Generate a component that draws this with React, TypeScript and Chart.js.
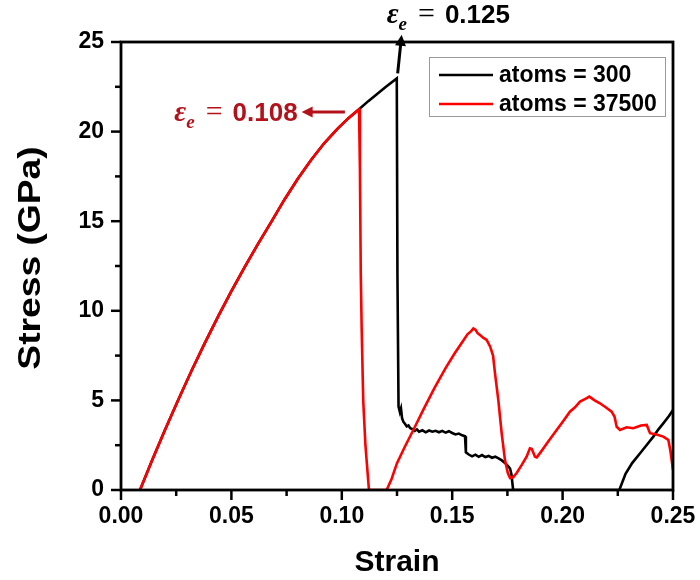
import React, { useEffect, useRef } from "react";
import { Chart, registerables } from "chart.js";
Chart.register(...registerables);

// ---------- data ----------
const seriesLabels = ["atoms = 300", "atoms = 37500"];
const seriesColors = ["#000000", "#ff0000"];

const strain300 = [
  0.0086, 0.014, 0.02, 0.026, 0.032, 0.038, 0.044, 0.05, 0.056, 0.062, 0.068, 0.074, 0.08, 0.086, 0.092, 0.098,
  0.103, 0.1078, 0.112, 0.116, 0.12, 0.1249, 0.1252, 0.1257, 0.1263, 0.1268, 0.1273, 0.1279, 0.1286,
  0.1294, 0.1302, 0.131, 0.132, 0.133, 0.134, 0.135, 0.1365, 0.138, 0.1395, 0.141, 0.1425, 0.144, 0.1455, 0.147,
  0.1485, 0.15, 0.1515, 0.153, 0.1545, 0.1558, 0.1562, 0.1575, 0.159, 0.1605, 0.162, 0.1635, 0.165, 0.1665, 0.168,
  0.1695, 0.171, 0.1725, 0.174, 0.1752, 0.1762, 0.1768, 0.1776, 0.2257, 0.2285, 0.2315, 0.2351, 0.238, 0.2411,
  0.2435, 0.2456, 0.248, 0.25,
];
const stress300 = [
  0, 1.63, 3.37, 5.05, 6.67, 8.21, 9.69, 11.1, 12.44, 13.72, 14.95, 16.2, 17.35, 18.4, 19.35, 20.15,
  20.75, 21.25, 21.7, 22.1, 22.5, 22.97, 12, 4.65, 4.35, 4.55, 4.0, 3.8, 3.7,
  3.55, 3.6, 3.45, 3.4, 3.3, 3.38, 3.25, 3.33, 3.22, 3.32, 3.25, 3.3, 3.22, 3.3, 3.2,
  3.28, 3.18, 3.1, 3.15, 3.05, 3.0, 2.1, 1.98, 1.88, 1.97, 1.85, 1.95, 1.84, 1.9, 1.8,
  1.86, 1.76, 1.65, 1.5, 1.35, 1.2, 0.9, 0, 0, 0.9, 1.5, 2.05, 2.5, 2.98,
  3.4, 3.72, 4.1, 4.46,
];

const strain37500 = [
  0.0086, 0.014, 0.02, 0.026, 0.032, 0.038, 0.044, 0.05, 0.056, 0.062, 0.068, 0.074, 0.08, 0.086, 0.092, 0.098,
  0.103, 0.1078, 0.1082, 0.1086, 0.109, 0.1097, 0.1107, 0.1123, 0.1203, 0.1225, 0.125, 0.1285, 0.1324, 0.137,
  0.142, 0.147, 0.151, 0.1545, 0.157, 0.1585, 0.1596, 0.1605, 0.1615, 0.1626, 0.164, 0.1656, 0.1672, 0.1685,
  0.1694, 0.1709, 0.1724, 0.1739, 0.1752, 0.1762, 0.1775, 0.1792, 0.1815, 0.1837, 0.1852, 0.186, 0.1875, 0.1883,
  0.19, 0.1935, 0.1973, 0.2, 0.2033, 0.2055, 0.2079, 0.2105, 0.2121, 0.2145, 0.2169, 0.2195, 0.2222, 0.2235,
  0.2245, 0.226, 0.229, 0.232, 0.2355, 0.2381, 0.2396, 0.2425, 0.2456, 0.2479, 0.2488, 0.25,
];
const stress37500 = [
  0, 1.63, 3.37, 5.05, 6.67, 8.21, 9.69, 11.1, 12.44, 13.72, 14.95, 16.2, 17.35, 18.4, 19.35, 20.15,
  20.75, 21.25, 18, 12, 9, 5, 2.5, 0, 0, 0.6, 1.5, 2.4, 3.35, 4.5,
  5.7, 6.8, 7.6, 8.25, 8.7, 8.85, 9.02, 8.95, 8.75, 8.65, 8.5, 8.37, 8.0, 7.5,
  6.5, 5.0, 3.17, 1.67, 0.95, 0.67, 0.7, 0.95, 1.4, 1.86, 2.33, 2.3, 1.86, 1.82,
  2.1, 2.7, 3.35, 3.8, 4.37, 4.6, 4.93, 5.1, 5.21, 5.0, 4.84, 4.62, 4.37, 4.1,
  3.53, 3.35, 3.5, 3.45, 3.6, 3.63, 3.17, 3.1, 2.98, 2.79, 2.2, 1.12,
];

const xTickValues = [0, 0.025, 0.05, 0.075, 0.1, 0.125, 0.15, 0.175, 0.2, 0.225, 0.25];
const xTickLabels = ["0.00", "", "0.05", "", "0.10", "", "0.15", "", "0.20", "", "0.25"];
const yTickValues = [0, 2.5, 5, 7.5, 10, 12.5, 15, 17.5, 20, 22.5, 25];
const yTickLabels = ["0", "", "5", "", "10", "", "15", "", "20", "", "25"];
const xTitle = "Strain";
const yTitle = "Stress (GPa)";

// elastic limit annotations: value text, arrow from (strain, stress) to (strain, stress)
const elasticLimitText = ["0.125", "0.108"];
const elasticArrowFrom = [[0.1253, 23.25], [0.1014, 21.1]];
const elasticArrowTo = [[0.1271, 25.4], [0.0818, 21.1]];
const elasticColors = ["#000000", "#b3121b"];

const SANS = "Arial, 'Liberation Sans', sans-serif";
const SERIF = "'Cambria Math', 'Liberation Serif', 'DejaVu Serif', serif";

function toPoints(xs: number[], ys: number[]) {
  return xs.map((x, i) => ({ x, y: ys[i] }));
}

function drawArrow(ctx: CanvasRenderingContext2D, x1: number, y1: number, x2: number, y2: number, color: string) {
  const ang = Math.atan2(y2 - y1, x2 - x1);
  const head = 11;
  const hw = 5.5;
  ctx.save();
  ctx.strokeStyle = color;
  ctx.fillStyle = color;
  ctx.lineWidth = 3;
  ctx.beginPath();
  ctx.moveTo(x1, y1);
  ctx.lineTo(x2 - Math.cos(ang) * head * 0.8, y2 - Math.sin(ang) * head * 0.8);
  ctx.stroke();
  ctx.beginPath();
  ctx.moveTo(x2, y2);
  ctx.lineTo(x2 - Math.cos(ang) * head - Math.sin(ang) * hw, y2 - Math.sin(ang) * head + Math.cos(ang) * hw);
  ctx.lineTo(x2 - Math.cos(ang) * head + Math.sin(ang) * hw, y2 - Math.sin(ang) * head - Math.cos(ang) * hw);
  ctx.closePath();
  ctx.fill();
  ctx.restore();
}

function eqnParts(value: string) {
  return [
    { t: "ε", font: `italic bold 29px ${SERIF}`, dy: 0, gap: 0 },
    { t: "e", font: `italic bold 19px ${SERIF}`, dy: 7, gap: 0 },
    { t: "=", font: `30px ${SERIF}`, dy: 0, gap: 11 },
    { t: value, font: `bold 26px ${SANS}`, dy: 0, gap: 10 },
  ];
}

function measureEqn(ctx: CanvasRenderingContext2D, value: string) {
  let w = 0;
  for (const p of eqnParts(value)) {
    ctx.font = p.font;
    w += p.gap + ctx.measureText(p.t).width;
  }
  return w;
}

function drawEqn(ctx: CanvasRenderingContext2D, x: number, baseline: number, value: string, color: string) {
  ctx.save();
  ctx.fillStyle = color;
  ctx.textBaseline = "alphabetic";
  ctx.textAlign = "left";
  let cx = x;
  for (const p of eqnParts(value)) {
    ctx.font = p.font;
    cx += p.gap;
    ctx.fillText(p.t, cx, baseline + p.dy);
    cx += ctx.measureText(p.t).width;
  }
  ctx.restore();
}

const framePlugin = {
  id: "frameTicksLegendNotes",
  afterDraw(chart: any) {
    const { ctx, chartArea: a, scales } = chart;
    const xs = scales.x;
    const ys = scales.y;
    ctx.save();
    // ticks
    ctx.strokeStyle = "#000";
    ctx.lineWidth = 2.5;
    xTickValues.forEach((v, i) => {
      const px = xs.getPixelForValue(v);
      const len = xTickLabels[i] ? 10 : 6;
      ctx.beginPath();
      ctx.moveTo(px, a.bottom);
      ctx.lineTo(px, a.bottom + len);
      ctx.stroke();
    });
    yTickValues.forEach((v, i) => {
      const py = ys.getPixelForValue(v);
      const len = yTickLabels[i] ? 10 : 6;
      ctx.beginPath();
      ctx.moveTo(a.left, py);
      ctx.lineTo(a.left - len, py);
      ctx.stroke();
    });
    // frame
    ctx.lineWidth = 2.8;
    ctx.strokeRect(a.left, a.top, a.right - a.left, a.bottom - a.top);

    // y title (slightly stretched along its length like the reference)
    ctx.save();
    ctx.translate(31, (a.top + a.bottom) / 2 - 8);
    ctx.rotate(-Math.PI / 2);
    ctx.scale(1.2, 1);
    ctx.fillStyle = "#000";
    ctx.font = `bold 31px ${SANS}`;
    ctx.textAlign = "center";
    ctx.textBaseline = "middle";
    ctx.fillText(yTitle, 0, 0);
    ctx.restore();

    // legend
    const bx = a.right - 7;
    const by = a.top + 15;
    const bw = 237;
    const bh = 60;
    ctx.fillStyle = "#fff";
    ctx.fillRect(bx - bw, by, bw, bh);
    ctx.strokeStyle = "#9a9a9a";
    ctx.lineWidth = 1;
    ctx.strokeRect(bx - bw + 0.5, by + 0.5, bw - 1, bh - 1);
    chart.data.datasets.forEach((ds: any, i: number) => {
      const cy = by + 18 + i * 29;
      ctx.strokeStyle = ds.borderColor;
      ctx.lineWidth = 2.5;
      ctx.beginPath();
      ctx.moveTo(bx - bw + 10, cy);
      ctx.lineTo(bx - bw + 64, cy);
      ctx.stroke();
      ctx.fillStyle = "#000";
      ctx.font = `bold 23px ${SANS}`;
      ctx.textBaseline = "middle";
      ctx.textAlign = "left";
      ctx.fillText(ds.label, bx - bw + 70, cy + 1);
    });

    // elastic-limit annotations
    elasticLimitText.forEach((txt, i) => {
      const x1 = xs.getPixelForValue(elasticArrowFrom[i][0]);
      const y1 = ys.getPixelForValue(elasticArrowFrom[i][1]);
      const x2 = xs.getPixelForValue(elasticArrowTo[i][0]);
      const y2 = ys.getPixelForValue(elasticArrowTo[i][1]);
      drawArrow(ctx, x1, y1, x2, y2, elasticColors[i]);
      if (i === 0) {
        drawEqn(ctx, x2 - 15, y2 - 12, txt, elasticColors[i]);
      } else {
        const w = measureEqn(ctx, txt);
        drawEqn(ctx, x2 - 4 - w, y2 + 9, txt, elasticColors[i]);
      }
    });
    ctx.restore();
  },
};

export default function App() {
  const ref = useRef<HTMLCanvasElement>(null);
  useEffect(() => {
    if (!ref.current) return;
    const chart = new Chart(ref.current, {
      type: "line",
      data: {
        datasets: [
          {
            label: seriesLabels[0],
            data: toPoints(strain300, stress300),
            borderColor: seriesColors[0],
            backgroundColor: seriesColors[0],
            borderWidth: 2.6,
            pointRadius: 0,
            tension: 0,
            order: 2,
          },
          {
            label: seriesLabels[1],
            data: toPoints(strain37500, stress37500),
            borderColor: seriesColors[1],
            backgroundColor: seriesColors[1],
            borderWidth: 2.6,
            pointRadius: 0,
            tension: 0,
            order: 1,
          },
        ],
      },
      options: {
        responsive: false,
        animation: false,
        layout: { padding: { top: 42, right: 27, left: 0, bottom: 0 } },
        plugins: { legend: { display: false }, tooltip: { enabled: false } },
        scales: {
          x: {
            type: "linear",
            min: 0,
            max: 0.25,
            afterBuildTicks: (s: any) => {
              s.ticks = xTickValues.map((v) => ({ value: v }));
            },
            afterFit: (s: any) => {
              s.height = 90;
            },
            ticks: {
              autoSkip: false,
              maxRotation: 0,
              padding: 3,
              color: "#000",
              font: { family: SANS, size: 23, weight: "bold" },
              callback: (_v: any, i: number) => xTickLabels[i],
            },
            grid: { display: true, drawOnChartArea: false, drawTicks: true, tickLength: 10, tickColor: "rgba(0,0,0,0)" },
            border: { display: false },
            title: {
              display: true,
              text: xTitle,
              color: "#000",
              font: { family: SANS, size: 30, weight: "bold", lineHeight: 1 },
              padding: { top: 0, bottom: 2 },
            },
          },
          y: {
            type: "linear",
            min: 0,
            max: 25,
            afterBuildTicks: (s: any) => {
              s.ticks = yTickValues.map((v) => ({ value: v }));
            },
            afterFit: (s: any) => {
              s.width = 121;
            },
            ticks: {
              autoSkip: false,
              padding: 7,
              color: "#000",
              font: { family: SANS, size: 23, weight: "bold" },
              callback: (_v: any, i: number) => yTickLabels[i],
            },
            grid: { display: true, drawOnChartArea: false, drawTicks: true, tickLength: 10, tickColor: "rgba(0,0,0,0)" },
            border: { display: false },
            title: { display: false, text: yTitle },
          },
        },
      },
      plugins: [framePlugin],
    });
    return () => chart.destroy();
  }, []);
  return (
    <div style={{ position: "fixed", left: 0, top: 0, width: 700, height: 580, background: "#fff" }}>
      <canvas ref={ref} width={700} height={580} />
    </div>
  );
}
